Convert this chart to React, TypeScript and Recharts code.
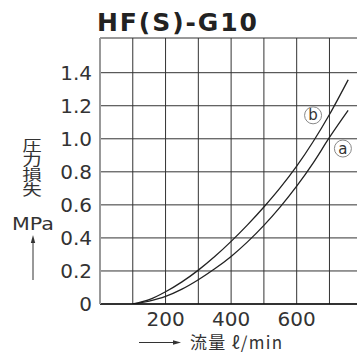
import { LineChart, Line, XAxis, YAxis, CartesianGrid, ReferenceDot } from "recharts";

// flow rate (ℓ/min) and pressure loss (MPa)
const flow = [100, 150, 200, 250, 300, 350, 400, 450, 500, 550, 600, 650, 700, 757];
const lossB = [0, 0.026, 0.074, 0.134, 0.205, 0.287, 0.379, 0.479, 0.587, 0.704, 0.834, 0.982, 1.147, 1.357];
const lossA = [0, 0.018, 0.046, 0.09, 0.147, 0.213, 0.288, 0.376, 0.476, 0.588, 0.713, 0.853, 1.008, 1.172];

const xTicks = [0, 100, 200, 300, 400, 500, 600, 700];
const xLabels = [200, 400, 600];
const yTicks = [0, 0.2, 0.4, 0.6, 0.8, 1.0, 1.2, 1.4, 1.61];

const title = "HF(S)-G10";
const yTitle = "圧力損失";
const yUnit = "MPa";
const xTitle = "流量 ℓ/min";

const data = flow.map((q, i) => ({ q, a: lossA[i], b: lossB[i] }));

const FONT = "'DejaVu Sans', sans-serif";
const CJK = "'Noto Sans CJK JP', sans-serif";

function CircleLabel({ viewBox, value }: any) {
  const cx = viewBox.x + viewBox.width / 2;
  const cy = viewBox.y + viewBox.height / 2;
  return (
    <text x={cx} y={cy + 5} textAnchor="middle" fontSize={15} fontFamily={FONT} fill="#333">
      {value}
    </text>
  );
}

export default function App() {
  return (
    <div style={{ position: "absolute", left: 0, top: 0, width: 357, height: 354, background: "#fff" }}>
      <LineChart
        width={357}
        height={354}
        data={data}
        margin={{ top: 38, right: 0, bottom: 20, left: 0 }}
      >
        <CartesianGrid stroke="#333" strokeWidth={1} horizontalValues={yTicks} verticalValues={xTicks} />
        <XAxis
          dataKey="q"
          type="number"
          domain={[0, 784]}
          ticks={xTicks}
          allowDataOverflow
          height={30}
          tickFormatter={(v: number) => (xLabels.includes(v) ? String(v) : "")}
          tick={{ fontSize: 20, fill: "#333", fontFamily: FONT }}
          axisLine={{ stroke: "#111", strokeWidth: 1.3 }}
          tickLine={false}
          interval={0}
        />
        <YAxis
          type="number"
          domain={[0, 1.61]}
          ticks={yTicks}
          allowDataOverflow
          width={100}
          tickFormatter={(v: number) => (v > 1.5 ? "" : v === 0 ? "0" : v.toFixed(1))}
          tick={{ fontSize: 20, fill: "#333", fontFamily: FONT }}
          axisLine={{ stroke: "#999", strokeWidth: 2 }}
          tickLine={false}
          interval={0}
        />
        <Line dataKey="b" type="monotone" stroke="#222" strokeWidth={1.3} dot={false} isAnimationActive={false} />
        <Line dataKey="a" type="monotone" stroke="#222" strokeWidth={1.3} dot={false} isAnimationActive={false} />
        <ReferenceDot x={650} y={1.142} r={8.5} fill="#fff" stroke="#888" strokeWidth={1} label={<CircleLabel value="b" />} />
        <ReferenceDot x={741} y={0.941} r={8.5} fill="#fff" stroke="#888" strokeWidth={1} label={<CircleLabel value="a" />} />
      </LineChart>
      <svg width={357} height={354} style={{ position: "absolute", left: 0, top: 0, pointerEvents: "none" }}>
        <text x={177} y={31} textAnchor="middle" fontSize={25} fontWeight="bold" fontFamily={FONT} fill="#222" textLength={160} lengthAdjust="spacing">
          {title}
        </text>
        <text
          transform="translate(32,137.5) scale(1.3,1)"
          x={0}
          y={0}
          fontSize={15}
          fontFamily={CJK}
          fill="#333"
          letterSpacing={-0.3}
          style={{ writingMode: "vertical-rl" }}
        >
          {yTitle}
        </text>
        <text x={33} y={229.5} textAnchor="middle" fontSize={17} fontFamily={FONT} fill="#333" textLength={42} lengthAdjust="spacingAndGlyphs">
          {yUnit}
        </text>
        <line x1={33} y1={280} x2={33} y2={241} stroke="#333" strokeWidth={1} />
        <polygon points="33,235 30.8,243 35.2,243" fill="#333" />
        <line x1={139} y1={342.5} x2={175} y2={342.5} stroke="#333" strokeWidth={1} />
        <polygon points="181,342.5 173,340.3 173,344.7" fill="#333" />
        <text x={190} y={349} fontSize={17} fontFamily={CJK} fill="#333" textLength={92} lengthAdjust="spacing">
          {xTitle}
        </text>
      </svg>
    </div>
  );
}
